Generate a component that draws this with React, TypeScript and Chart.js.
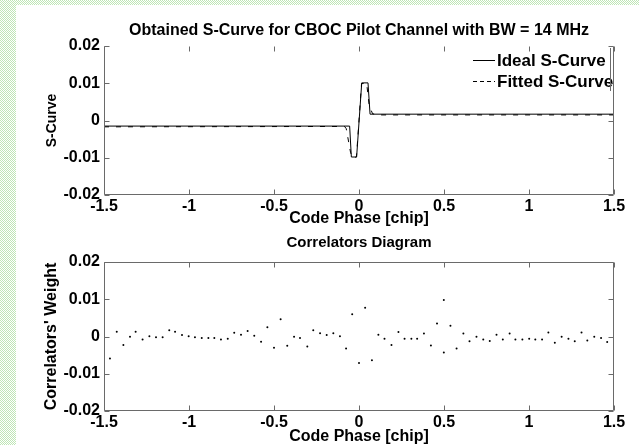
import React, { useEffect, useRef } from 'react';
import { Chart, registerables } from 'chart.js';

Chart.register(...registerables);

const FONT = '"Liberation Sans", Arial, sans-serif';

// ---- tick values / labels ----
const xTickValues = [-1.5, -1, -0.5, 0, 0.5, 1, 1.5];
const xTickLabels = ['-1.5', '-1', '-0.5', '0', '0.5', '1', '1.5'];
const yTickValues = [-0.02, -0.01, 0, 0.01, 0.02];
const yTickLabels = ['-0.02', '-0.01', '0', '0.01', '0.02'];

// ---- S-curve (top panel) ----
const idealX = [-1.5, -0.055, -0.045, -0.014, 0.016, 0.053, 0.065, 1.5];
const idealY = [-0.0015, -0.0015, -0.0098, -0.0098, 0.0101, 0.0101, 0.0017, 0.0017];

const fittedX = [-1.5, -0.085, -0.075, -0.05, -0.04, -0.015, 0.015, 0.045, 0.06, 0.08, 0.12, 1.5];
const fittedY = [-0.0017, -0.0016, -0.0022, -0.0085, -0.01, -0.0098, 0.0099, 0.01, 0.004, 0.0018, 0.0015, 0.0015];

// ---- correlators weights (bottom panel) ----
const corrX = [
  -1.465, -1.425, -1.386, -1.347, -1.314, -1.273, -1.233, -1.194, -1.155, -1.116,
  -1.082, -1.041, -1.002, -0.965, -0.925, -0.886, -0.851, -0.812, -0.772, -0.734,
  -0.694, -0.655, -0.616, -0.576, -0.539, -0.5, -0.461, -0.422, -0.382, -0.347,
  -0.304, -0.269, -0.229, -0.19, -0.151, -0.112, -0.076, -0.04, 0.0, 0.036,
  0.076, 0.114, 0.15, 0.191, 0.232, 0.268, 0.308, 0.342, 0.382, 0.423,
  0.459, 0.499, 0.538, 0.574, 0.614, 0.65, 0.691, 0.731, 0.769, 0.809,
  0.846, 0.886, 0.92, 0.961, 1.001, 1.037, 1.077, 1.114, 1.152, 1.192,
  1.232, 1.269, 1.309, 1.343, 1.384, 1.424, 1.46, 0.499,
];
const corrY = [
  -0.0059, 0.0013, -0.0023, -0.0001, 0.0013, -0.0008, 0.0001, -0.0002, -0.0002, 0.0017,
  0.0013, 0.0004, 0.0001, -0.0002, -0.0004, -0.0004, -0.0004, -0.0008, -0.0006, 0.001,
  0.0005, 0.0015, 0.0002, -0.0014, 0.0025, -0.003, 0.0046, -0.0025, -0.0001, -0.0004,
  -0.0027, 0.0017, 0.0009, 0.0004, 0.0009, 0.0001, -0.0032, 0.006, -0.0071, 0.0077,
  -0.0064, 0.0005, -0.0006, -0.0023, 0.0012, -0.0006, -0.0006, -0.0006, 0.0008, -0.0024,
  0.0035, -0.0043, 0.0029, -0.0032, 0.0008, -0.0013, -0.0001, -0.0008, -0.0012, 0.0005,
  -0.0008, 0.0008, -0.0008, -0.0008, -0.0006, -0.0008, -0.0008, 0.0011, -0.0017, -0.0001,
  -0.0006, -0.0013, 0.0011, -0.0011, -0.0001, -0.0004, -0.0015, 0.0098,
];

const TOP_H = 229;
const BOT_H = 216;
const W = 639;
const FRAME = '#6a6a6a';

const pts = (xs: number[], ys: number[]) => xs.map((x, i) => ({ x, y: ys[i] }));

const framePlugin = {
  id: 'frame',
  afterDatasetsDraw(chart: any, _args: any, opts: any) {
    const { ctx, chartArea: a, scales } = chart;
    const L = Math.round(a.left) + 0.5;
    const R = Math.round(a.right) - 0.5;
    const T = Math.round(a.top) + 0.5;
    const B = Math.round(a.bottom) - 0.5;
    ctx.save();
    ctx.strokeStyle = opts.color || FRAME;
    ctx.lineWidth = 1;
    ctx.beginPath();
    ctx.moveTo(L, T); ctx.lineTo(L, B); ctx.lineTo(R, B); ctx.lineTo(R, T);
    if (opts.top) { ctx.lineTo(L, T); }
    ctx.stroke();
    const tl = 5;
    ctx.beginPath();
    for (const t of scales.x.ticks) {
      const px = Math.round(scales.x.getPixelForValue(t.value)) + 0.5;
      ctx.moveTo(px, B); ctx.lineTo(px, B - tl);
      ctx.moveTo(px, T); ctx.lineTo(px, T + tl);
    }
    for (const t of scales.y.ticks) {
      const py = Math.round(scales.y.getPixelForValue(t.value)) + 0.5;
      ctx.moveTo(L, py); ctx.lineTo(L + tl, py);
      ctx.moveTo(R, py); ctx.lineTo(R - tl, py);
    }
    ctx.stroke();
    ctx.restore();
  },
};

const legendPlugin = {
  id: 'miniLegend',
  afterDraw(chart: any, _args: any, opts: any) {
    if (!opts || !opts.display) return;
    const { ctx } = chart;
    ctx.save();
    ctx.font = `bold ${opts.fontSize}px ${FONT}`;
    ctx.textBaseline = 'middle';
    ctx.textAlign = 'left';
    chart.data.datasets.forEach((ds: any, i: number) => {
      const y = opts.rows[i];
      ctx.strokeStyle = ds.borderColor;
      ctx.lineWidth = 1;
      ctx.setLineDash(ds.legendDash || []);
      ctx.beginPath();
      ctx.moveTo(opts.sampleX0, y + 0.5);
      ctx.lineTo(opts.sampleX1, y + 0.5);
      ctx.stroke();
      ctx.setLineDash([]);
      ctx.fillStyle = '#000';
      ctx.fillText(ds.label, opts.textX, y + 1.5);
    });
    ctx.strokeStyle = FRAME;
    ctx.beginPath();
    ctx.moveTo(opts.boxRight + 0.5, opts.boxTop);
    ctx.lineTo(opts.boxRight + 0.5, opts.boxBottom);
    ctx.stroke();
    ctx.restore();
  },
};

function makeScales(canvasH: number, chartBottom: number, yTitle: string, yTitleSize: number, xTitlePadBottom: number) {
  return {
    x: {
      type: 'linear' as const,
      min: -1.5,
      max: 1.5,
      grid: { display: false, drawTicks: false },
      border: { display: false },
      afterBuildTicks: (s: any) => { s.ticks = xTickValues.map((v) => ({ value: v })); },
      afterFit: (s: any) => { s.height = canvasH - chartBottom; },
      ticks: {
        padding: 2,
        color: '#000',
        maxRotation: 0,
        autoSkip: false,
        font: { family: FONT, size: 16, weight: 'bold' as const },
        callback: (_v: any, i: number) => xTickLabels[i],
      },
      title: {
        display: true,
        text: 'Code Phase [chip]',
        color: '#000',
        font: { family: FONT, size: 16, weight: 'bold' as const },
        padding: { top: 0, bottom: xTitlePadBottom },
      },
    },
    y: {
      type: 'linear' as const,
      min: -0.02,
      max: 0.02,
      grid: { display: false, drawTicks: false },
      border: { display: false },
      afterBuildTicks: (s: any) => { s.ticks = yTickValues.map((v) => ({ value: v })); },
      afterFit: (s: any) => { s.width = 104; },
      ticks: {
        padding: 4,
        color: '#000',
        autoSkip: false,
        font: { family: FONT, size: 16, weight: 'bold' as const },
        callback: (_v: any, i: number) => yTickLabels[i],
      },
      title: {
        display: true,
        text: yTitle,
        color: '#000',
        font: { family: FONT, size: yTitleSize, weight: 'bold' as const },
        padding: { top: 52 - (yTitleSize * 1.2) / 2, bottom: 0 },
      },
    },
  };
}

export default function App() {
  const topRef = useRef<HTMLCanvasElement>(null);
  const botRef = useRef<HTMLCanvasElement>(null);

  useEffect(() => {
    const top = new Chart(topRef.current as HTMLCanvasElement, {
      type: 'line',
      data: {
        datasets: [
          {
            label: 'Ideal S-Curve',
            data: pts(idealX, idealY),
            borderColor: '#000',
            borderWidth: 1,
            pointRadius: 0,
            tension: 0,
            fill: false,
          } as any,
          {
            label: 'Fitted S-Curve',
            data: pts(fittedX, fittedY),
            borderColor: '#000',
            borderWidth: 1,
            borderDash: [5, 7],
            legendDash: [4, 3],
            pointRadius: 0,
            tension: 0,
            fill: false,
          } as any,
        ],
      },
      options: {
        responsive: false,
        maintainAspectRatio: false,
        animation: false,
        devicePixelRatio: 1,
        layout: { padding: { left: 0, right: W - 614, top: 0, bottom: 0 } },
        scales: makeScales(TOP_H, 195, 'S-Curve', 14, 0.4) as any,
        plugins: {
          legend: { display: false },
          tooltip: { enabled: false },
          title: {
            display: true,
            fullSize: false,
            text: 'Obtained S-Curve for CBOC Pilot Channel with BW = 14 MHz',
            color: '#000',
            font: { family: FONT, size: 16, weight: 'bold' },
            padding: { top: 21, bottom: 5.8 },
          },
          frame: { color: FRAME, top: false },
          miniLegend: {
            display: true,
            fontSize: 17,
            rows: [60, 81],
            sampleX0: 473,
            sampleX1: 495,
            textX: 497,
            boxRight: 610,
            boxTop: 48,
            boxBottom: 91,
          },
        } as any,
      },
      plugins: [framePlugin, legendPlugin],
    });

    const bot = new Chart(botRef.current as HTMLCanvasElement, {
      type: 'scatter',
      data: {
        datasets: [
          {
            label: 'Correlators Weight',
            data: pts(corrX, corrY),
            pointRadius: 1,
            pointBorderWidth: 0,
            pointBackgroundColor: '#000',
            borderColor: '#000',
            showLine: false,
          } as any,
        ],
      },
      options: {
        responsive: false,
        maintainAspectRatio: false,
        animation: false,
        devicePixelRatio: 1,
        layout: { padding: { left: 0, right: W - 614, top: 0, bottom: 0 } },
        scales: makeScales(BOT_H, 182, "Correlators' Weight", 16, -1) as any,
        plugins: {
          legend: { display: false },
          tooltip: { enabled: false },
          title: {
            display: true,
            fullSize: false,
            text: 'Correlators Diagram',
            color: '#000',
            font: { family: FONT, size: 15, weight: 'bold' },
            padding: { top: 5, bottom: 10 },
          },
          frame: { color: FRAME, top: true },
          miniLegend: { display: false },
        } as any,
      },
      plugins: [framePlugin, legendPlugin],
    });

    return () => {
      top.destroy();
      bot.destroy();
    };
  }, []);

  const pattern: React.CSSProperties = {
    position: 'absolute',
    backgroundColor: '#bfe6b6',
    backgroundImage:
      'linear-gradient(45deg, #ffffff 25%, transparent 25%, transparent 75%, #ffffff 75%), linear-gradient(45deg, #ffffff 25%, transparent 25%, transparent 75%, #ffffff 75%)',
    backgroundSize: '2px 2px',
    backgroundPosition: '0 0, 1px 1px',
  };

  return (
    <div style={{ position: 'absolute', left: 0, top: 0, width: W, height: 445, background: '#fff', overflow: 'hidden' }}>
      <canvas ref={topRef} width={W} height={TOP_H} style={{ position: 'absolute', left: 0, top: 0, width: W, height: TOP_H }} />
      <canvas ref={botRef} width={W} height={BOT_H} style={{ position: 'absolute', left: 0, top: TOP_H, width: W, height: BOT_H }} />
      <div style={{ ...pattern, left: 0, top: 0, width: 16, height: 445 }} />
      <div style={{ ...pattern, left: 0, top: 0, width: W, height: 5 }} />
    </div>
  );
}
